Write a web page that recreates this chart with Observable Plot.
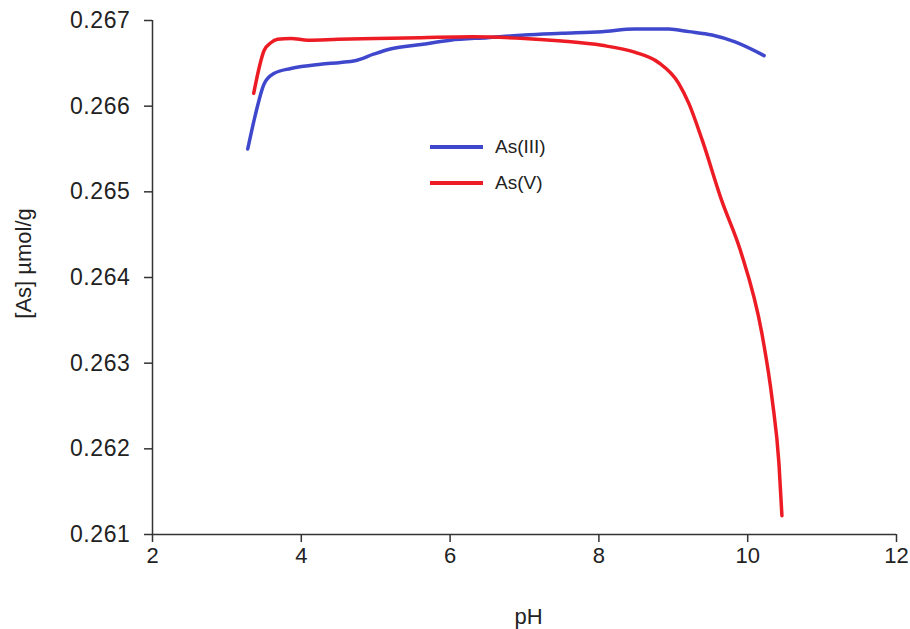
<!DOCTYPE html>
<html>
<head>
<meta charset="utf-8">
<script src="https://cdn.jsdelivr.net/npm/d3@7"></script>
<script src="https://cdn.jsdelivr.net/npm/@observablehq/plot@0.6"></script>
<style>
  html, body { margin: 0; padding: 0; background: #fff; }
  #wrap { position: relative; width: 910px; height: 629px; font-family: Arial, "Liberation Sans", sans-serif; }
  .leg { position: absolute; display: flex; align-items: center; font-size: 19px; color: #222; }
  .leg .sw { width: 53px; height: 4px; margin-right: 12px; }
  .yax text { letter-spacing: 0.6px; }
</style>
</head>
<body>
<div id="wrap"></div>
<script>
// As(III) series
const as3PH = [3.28, 3.38, 3.50, 3.63, 3.86, 4.26, 4.53, 4.72, 4.98, 5.21, 5.61, 6.0, 6.5, 7.0, 7.5, 8.04, 8.48, 8.94, 9.21, 9.52, 9.83, 10.22];
const as3Val = [0.26550, 0.26589, 0.26626, 0.26638, 0.26644, 0.26649, 0.26651, 0.26653, 0.26661, 0.26667, 0.26672, 0.26677, 0.26680, 0.26683, 0.26685, 0.26687, 0.26690, 0.26690, 0.26687, 0.26683, 0.26675, 0.26659];
// As(V) series
const as5PH = [3.36, 3.50, 3.59, 3.68, 3.86, 4.09, 4.49, 5.0, 5.61, 6.3, 7.0, 7.5, 8.04, 8.48, 8.80, 9.07, 9.21, 9.39, 9.65, 9.90, 10.19, 10.33, 10.42, 10.46];
const as5Val = [0.26615, 0.26665, 0.26674, 0.26678, 0.26679, 0.26677, 0.26678, 0.26679, 0.26680, 0.26681, 0.26679, 0.26676, 0.26671, 0.26663, 0.26651, 0.26627, 0.26603, 0.26560, 0.26490, 0.26432, 0.26335, 0.26257, 0.26183, 0.26122];

const seriesNames = ["As(III)", "As(V)"];
const seriesColors = ["#3f48cc", "#ed1c24"];
const xTicks = [2, 4, 6, 8, 10, 12];
const yTicks = [0.261, 0.262, 0.263, 0.264, 0.265, 0.266, 0.267];
const xTitle = "pH";
const yTitle = "[As] µmol/g";

const data = [
  ...as3PH.map((x, i) => ({series: seriesNames[0], x, y: as3Val[i]})),
  ...as5PH.map((x, i) => ({series: seriesNames[1], x, y: as5Val[i]}))
];

const ink = "#222";
const chart = Plot.plot({
  width: 910,
  height: 629,
  marginLeft: 152,
  marginRight: 14,
  marginTop: 20,
  marginBottom: 95,
  style: {fontFamily: 'Arial, "Liberation Sans", sans-serif', fontSize: "22px", color: ink, background: "#fff"},
  x: {domain: [xTicks[0], xTicks[xTicks.length - 1]]},
  y: {domain: [yTicks[0], yTicks[yTicks.length - 1]]},
  color: {domain: seriesNames, range: seriesColors},
  marks: [
    Plot.axisX({ticks: xTicks, tickSize: 8, tickPadding: 5, tickFormat: d3.format("d"), label: null, stroke: "#333", strokeWidth: 1.5, fontSize: 22}),
    Plot.axisY({ticks: yTicks, tickSize: 8, tickPadding: 14, tickFormat: d3.format(".3f"), label: null, stroke: "#333", strokeWidth: 1.5, fontSize: 23, className: "yax"}),
    Plot.ruleX([xTicks[0]], {stroke: "#333", strokeWidth: 1.5}),
    Plot.ruleY([yTicks[0]], {stroke: "#333", strokeWidth: 1.5}),
    Plot.line(data, {x: "x", y: "y", z: "series", stroke: "series", strokeWidth: 3.5, curve: "monotone-x"}),
    Plot.text([xTitle], {frameAnchor: "bottom", lineAnchor: "top", dy: 74, dx: 4, fontSize: 22, fill: ink}),
    Plot.text([yTitle], {frameAnchor: "left", textAnchor: "middle", rotate: -90, dx: -129, dy: -14, fontSize: 22, fill: ink})
  ]
});

const wrap = document.getElementById("wrap");
wrap.appendChild(chart);

// legend overlay
const legTops = [147, 183];
seriesNames.forEach((name, i) => {
  const d = document.createElement("div");
  d.className = "leg";
  d.style.left = "430px";
  d.style.top = (legTops[i] - 12) + "px";
  d.style.height = "24px";
  const sw = document.createElement("span");
  sw.className = "sw";
  sw.style.background = seriesColors[i];
  const t = document.createElement("span");
  t.textContent = name;
  d.appendChild(sw);
  d.appendChild(t);
  wrap.appendChild(d);
});
</script>
</body>
</html>
